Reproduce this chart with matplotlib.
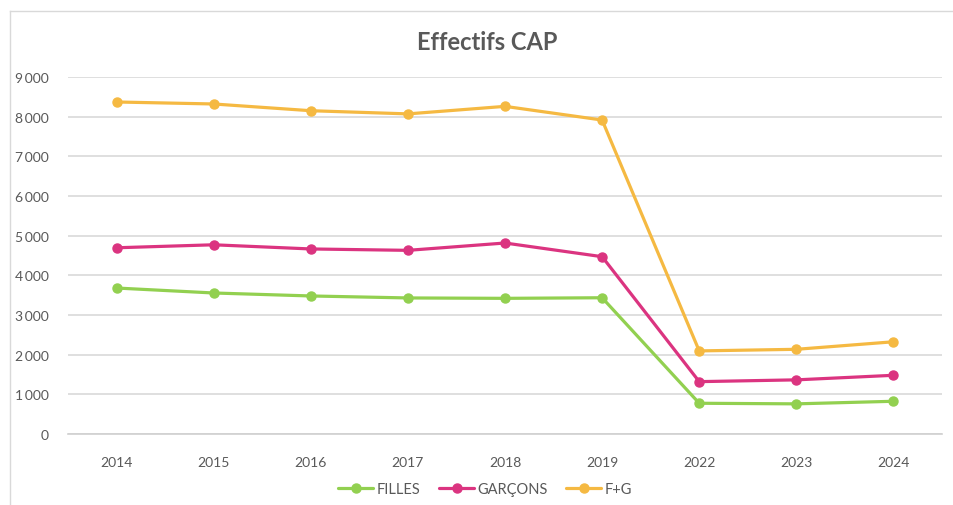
import matplotlib
matplotlib.use('Agg')
import matplotlib.pyplot as plt
from matplotlib.lines import Line2D
from matplotlib.ticker import FuncFormatter

# Data
annees = ['2014', '2015', '2016', '2017', '2018', '2019', '2022', '2023', '2024']
filles = [3680, 3555, 3480, 3430, 3420, 3435, 775, 760, 825]
garcons = [4695, 4770, 4665, 4630, 4815, 4470, 1320, 1365, 1480]
f_plus_g = [8370, 8320, 8150, 8070, 8260, 7915, 2095, 2135, 2325]

plt.rcParams['font.family'] = ['Lato', 'DejaVu Sans']

fig = plt.figure(figsize=(9.54, 5.06), dpi=100)
ax = fig.add_axes([68 / 954, 1 - 435 / 506, 874 / 954, 357 / 506])

x = list(range(len(annees)))
series = [('FILLES', filles, '#92D050'),
          ('GARÇONS', garcons, '#DB3480'),
          ('F+G', f_plus_g, '#F5B942')]
for nom, vals, col in series:
    ax.plot(x, vals, color=col, lw=2.3, marker='o', ms=6.5, label=nom,
            solid_capstyle='round', zorder=3)

ax.set_xlim(-0.5, len(annees) - 0.5)
ax.set_ylim(0, 9000)
ax.set_yticks(range(0, 9001, 1000))
ax.yaxis.set_major_formatter(FuncFormatter(
    lambda v, p: f'{int(v):,}'.replace(',', '\u2009')))
ax.set_xticks(x)
ax.set_xticklabels(annees)
ax.grid(axis='y', color='#d9d9d9', lw=1.2)
ax.set_axisbelow(True)
for s in ['top', 'right', 'left']:
    ax.spines[s].set_visible(False)
ax.spines['bottom'].set_color('#d0d0d0')
ax.spines['bottom'].set_linewidth(1.2)
ax.tick_params(axis='both', length=0, colors='#595959', labelsize=10)
ax.tick_params(axis='y', pad=14)
ax.tick_params(axis='x', pad=16)

fig.text(0.511, 1 - 42 / 506, 'Effectifs CAP', ha='center', va='center',
         fontsize=17, fontweight='bold', color='#595959')

ax.legend(loc='center', bbox_to_anchor=(485 / 954, 1 - 490 / 506),
          bbox_transform=fig.transFigure, ncol=3, frameon=False,
          fontsize=10.5, labelcolor='#595959', handlelength=2.4,
          handletextpad=0.2, columnspacing=1.3)

# light frame around the chart area
fig.add_artist(Line2D([10 / 954, 10 / 954], [0, 1 - 12 / 506], color='#d9d9d9', lw=1))
fig.add_artist(Line2D([10 / 954, 1], [1 - 12 / 506, 1 - 12 / 506], color='#d9d9d9', lw=1))

plt.savefig('out.png', dpi=100)
